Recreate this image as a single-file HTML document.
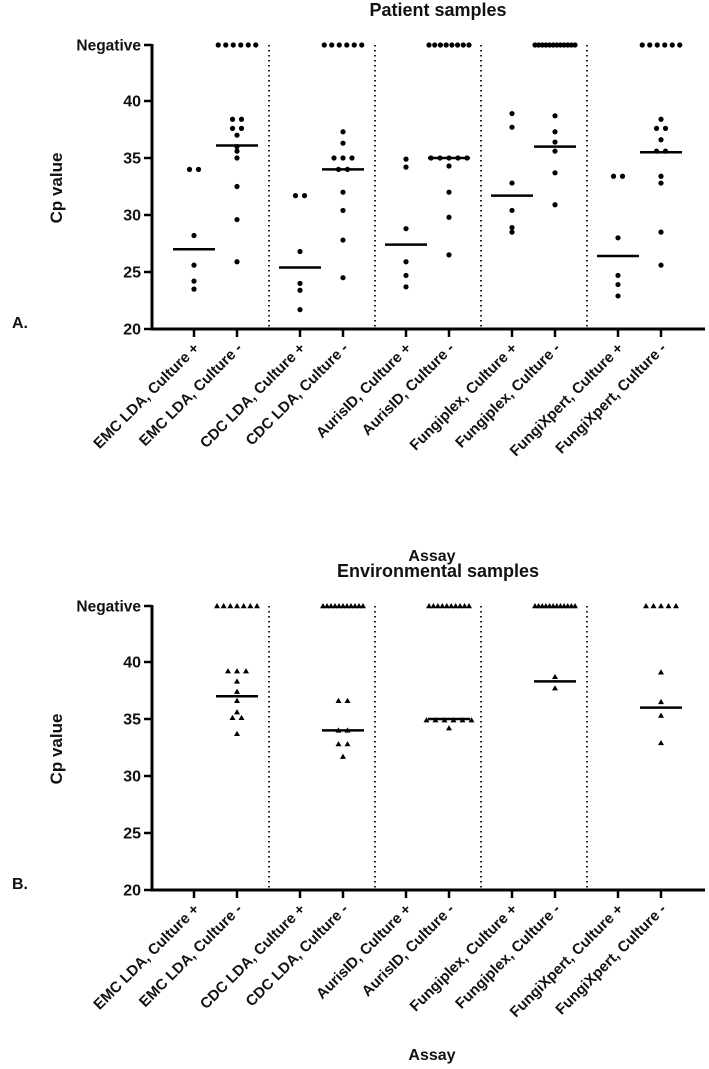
<!DOCTYPE html>
<html><head><meta charset="utf-8"><style>
html,body{margin:0;padding:0;background:#fff;width:709px;height:1069px;overflow:hidden}
svg text{font-family:"Liberation Sans",Arial,sans-serif;font-weight:bold;fill:#111}
</style></head><body>
<svg id="chart" width="709" height="1069" viewBox="0 0 709 1069" xmlns="http://www.w3.org/2000/svg"></svg>
<script>
const categories = ["EMC LDA, Culture +","EMC LDA, Culture -","CDC LDA, Culture +","CDC LDA, Culture -","AurisID, Culture +","AurisID, Culture -","Fungiplex, Culture +","Fungiplex, Culture -","FungiXpert, Culture +","FungiXpert, Culture -"];
const yTicks = [20,25,30,35,40];
const patientValues = [
 [34.0,34.1,28.2,25.6,24.2,23.5],
 [38.4,38.4,37.6,37.6,37.0,36.0,35.6,35.0,32.5,29.6,25.9],
 [31.7,31.7,26.8,24.0,23.4,21.7],
 [37.3,36.3,35.0,35.0,35.0,34.0,33.7,32.0,30.4,27.8,24.5],
 [34.9,34.2,28.8,25.9,24.7,23.7],
 [35.0,35.0,35.0,35.0,35.0,34.3,32.0,29.8,26.5],
 [38.9,37.7,32.8,30.4,28.9,28.5],
 [38.7,37.3,36.4,35.6,33.7,30.9],
 [33.4,33.5,28.0,24.7,23.9,22.9],
 [38.4,37.6,37.7,36.6,35.6,35.5,33.4,32.8,28.5,25.6]
];
const patientNegatives = [0,6,0,6,0,8,0,12,0,6];
const patientMedians = [27.0,36.1,25.4,34.0,27.4,35.0,31.7,36.0,26.4,35.5];
const envValues = [
 [],
 [39.2,38.9,38.9,38.3,37.4,36.6,35.6,35.1,34.9,33.7],
 [],
 [36.6,36.7,34.0,33.9,32.8,32.5,31.7],
 [],
 [34.9,34.9,34.9,34.9,34.9,34.9,34.2],
 [],
 [38.7,37.7],
 [],
 [39.1,36.5,35.3,32.9]
];
const envNegatives = [0,7,0,11,0,10,0,12,0,5];
const envMedians = [null,37.0,null,34.0,null,35.0,null,38.3,null,36.0];

const NS="http://www.w3.org/2000/svg";
const svg=document.getElementById('chart');
function mk(tag,attrs,parent){const e=document.createElementNS(NS,tag);for(const k in attrs)e.setAttribute(k,attrs[k]);(parent||svg).appendChild(e);return e;}
function xScale(i){return 194+Math.floor(i/2)*106+(i%2)*43;}

function panel(top,title,titleY,assayY,letter,values,negs,medians,marker){
  const g=mk('g',{});
  
  
  const y0=top+284; // value 20
  const yNeg=top;
  const yScale=v=>y0-(v-20)*11.4;
  const t=mk('text',{x:438,y:titleY,'text-anchor':'middle','font-size':18},g);t.textContent=title;
  
  const l=mk('text',{x:12,y:y0-1,'font-size':16},g);l.textContent=letter;
  
  const yt=mk('text',{x:0,y:0,'text-anchor':'middle','font-size':17,transform:`translate(62,${top+143}) rotate(-90)`},g);yt.textContent='Cp value';
  
  const xt=mk('text',{x:432,y:assayY,'text-anchor':'middle','font-size':16},g);xt.textContent='Assay';
  
  for(let d=0;d<4;d++){const x=269+d*106;const dl=mk('line',{x1:x,x2:x,y1:yNeg,y2:y0,stroke:'#222','stroke-width':2,'stroke-dasharray':'1.5 3.5'},g);
    }
  const ya=mk('line',{x1:152,x2:152,y1:yNeg-1,y2:y0+1.5,stroke:'#000','stroke-width':3},g);
  
  const xa=mk('line',{x1:150.5,x2:705,y1:y0,y2:y0,stroke:'#000','stroke-width':3},g);
  
  yTicks.forEach(v=>{const y=yScale(v);mk('line',{x1:144,x2:152,y1:y,y2:y,stroke:'#000','stroke-width':2.5},g);
    const tx=mk('text',{x:141,y:y+5.5,'text-anchor':'end','font-size':16},g);tx.textContent=v;
    });
  mk('line',{x1:144,x2:152,y1:yNeg,y2:yNeg,stroke:'#000','stroke-width':2.5},g);
  const nt=mk('text',{x:141,y:yNeg+5.5,'text-anchor':'end','font-size':15.5},g);nt.textContent='Negative';
  
  categories.forEach((c,i)=>{const x=xScale(i);
    mk('line',{x1:x,x2:x,y1:y0,y2:y0+8,stroke:'#000','stroke-width':2.5},g);
    const tl=mk('text',{x:0,y:0,'text-anchor':'end','font-size':15,transform:`translate(${x+6},${y0+20}) rotate(-45)`},g);tl.textContent=c;
    
  });
  function drawMark(x,y){
    let m;
    if(marker==='circle') m=mk('circle',{cx:x,cy:y,r:2.6,fill:'#000'},g);
    else m=mk('path',{d:`M${x},${y-3} L${x+3},${y+2.2} L${x-3},${y+2.2} Z`,fill:'#000'},g);
    
    
  }
  values.forEach((arr,i)=>{const cx=xScale(i);
    const groups=[];
    arr.forEach(v=>{let gp=groups.find(q=>Math.abs(q.v-v)<0.35);if(gp)gp.n++;else groups.push({v:v,n:1});});
    groups.forEach(gp=>{for(let k=0;k<gp.n;k++){drawMark(cx+(k-(gp.n-1)/2)*9,yScale(gp.v));}});
    const n=negs[i];
    if(n>0){const sp=Math.min(7.5,40/Math.max(1,n-1));for(let k=0;k<n;k++)drawMark(cx+(k-(n-1)/2)*sp,yNeg);}
    if(medians[i]!=null){const my=yScale(medians[i]);const ml=mk('line',{x1:cx-21,x2:cx+21,y1:my,y2:my,stroke:'#000','stroke-width':2.5},g);
      }
  });
}
panel(45,'Patient samples',16,561,'A.',patientValues,patientNegatives,patientMedians,'circle');
panel(606,'Environmental samples',577,1060,'B.',envValues,envNegatives,envMedians,'triangle');
</script>
</body></html>
